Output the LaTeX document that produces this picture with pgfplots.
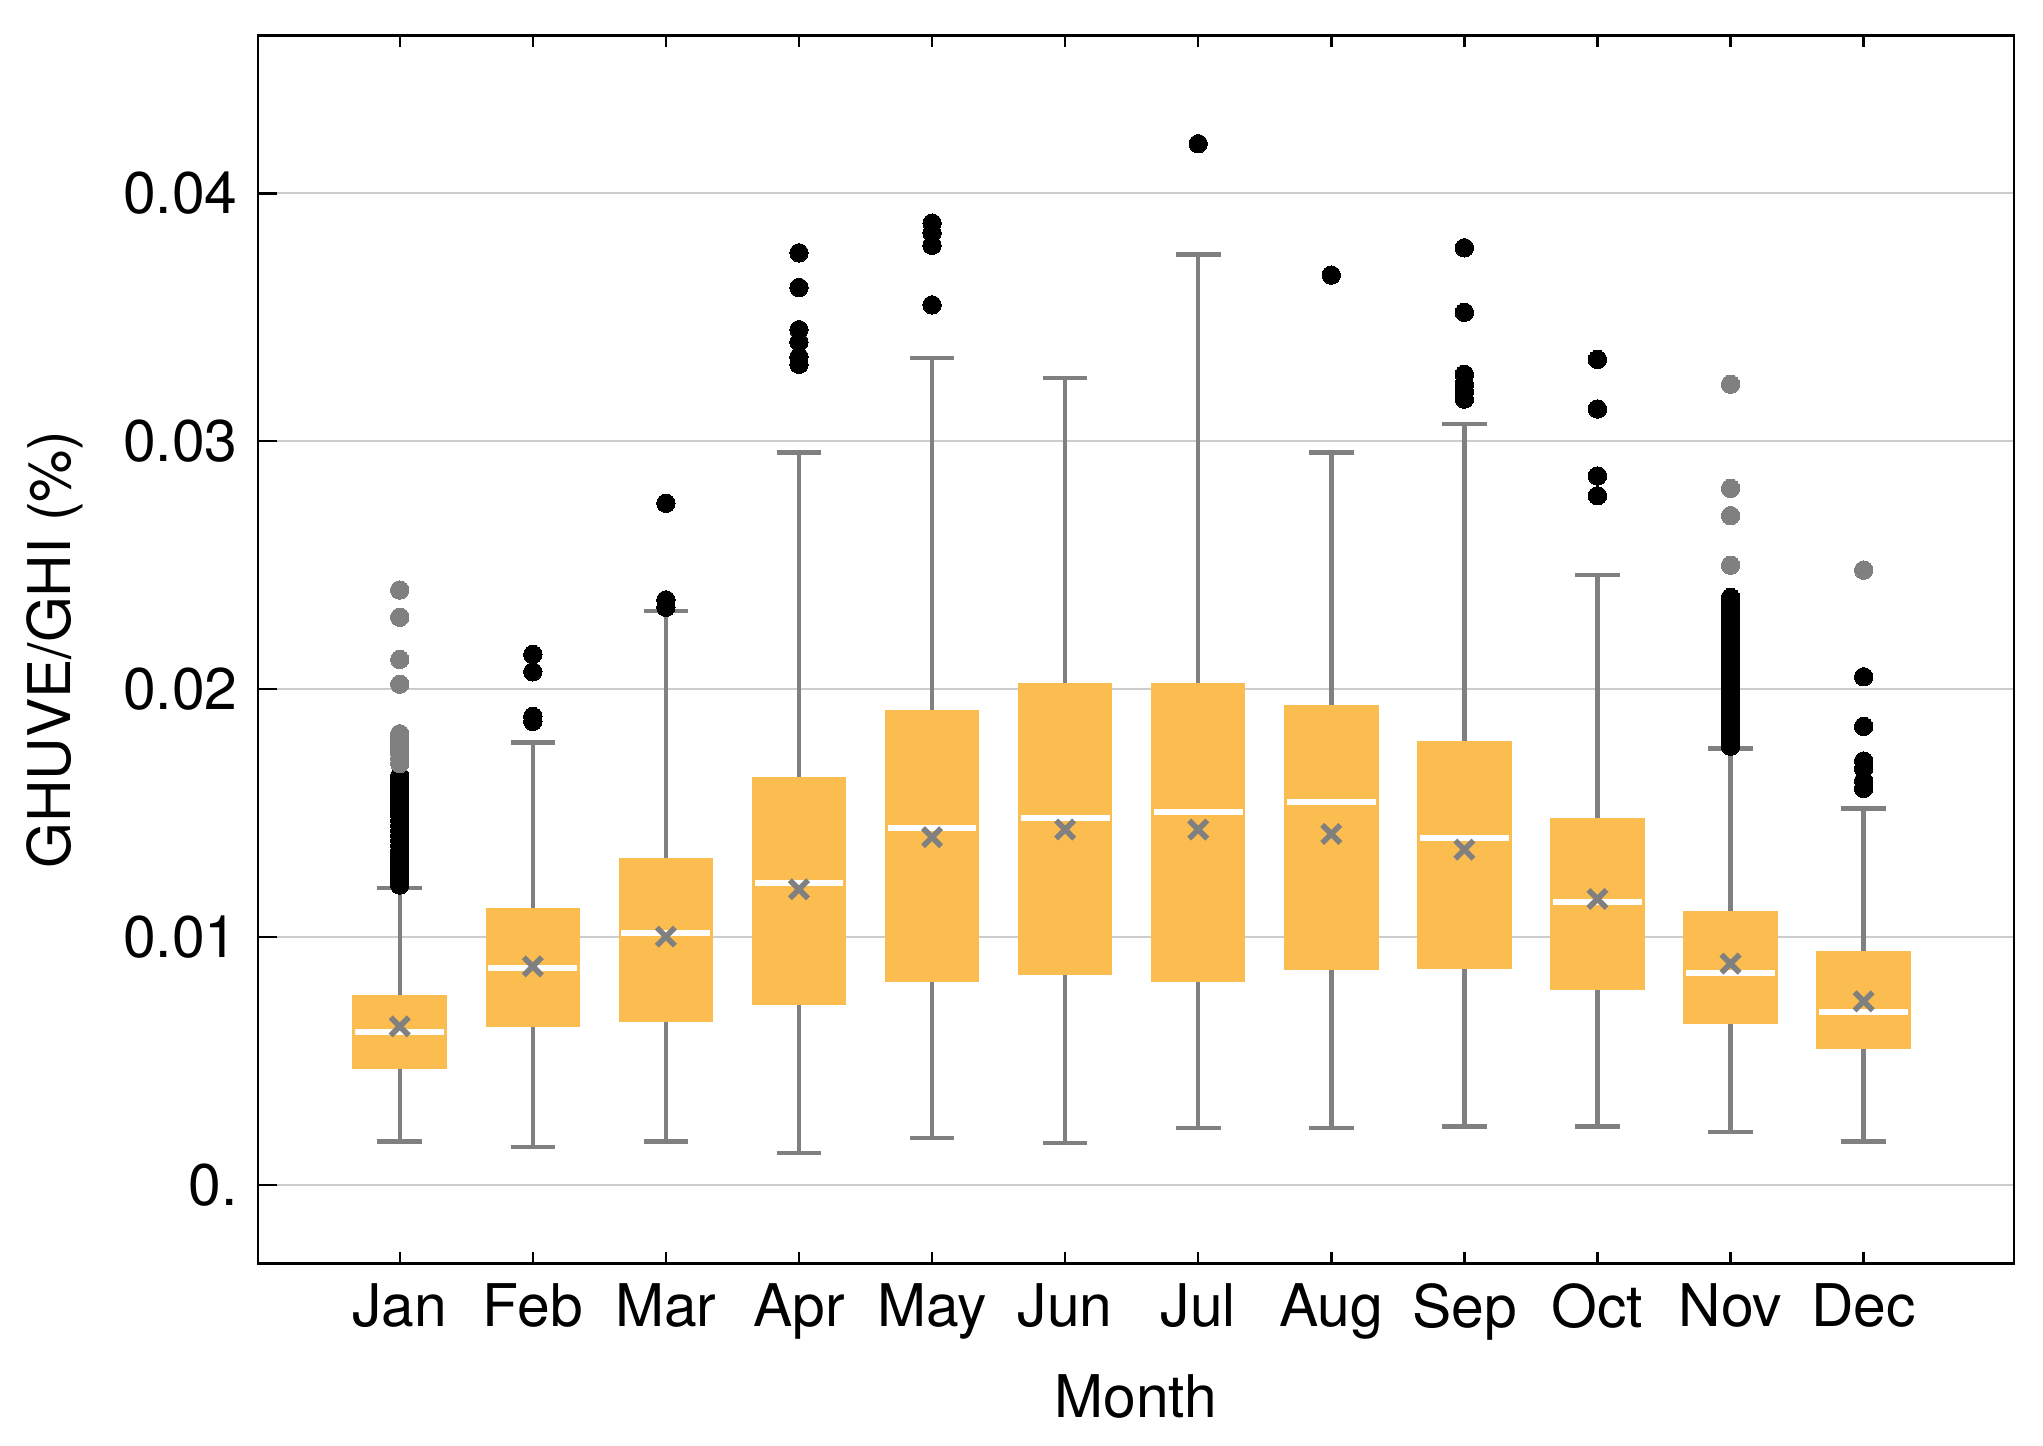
\documentclass[border=0pt]{standalone}
\usepackage{fontspec}
\setmainfont{TeX Gyre Heros}
\usepackage{pgfplots}
\pgfplotsset{compat=1.18}
\usepgfplotslibrary{statistics}
\definecolor{boxorange}{RGB}{251,189,80}
\definecolor{wgray}{RGB}{128,128,128}
\definecolor{gridgray}{RGB}{204,204,204}
\begin{document}
{\fontsize{14.7}{17.6}\selectfont
\begin{tikzpicture}
\path[use as bounding box] (-64.5pt,-45.5pt) rectangle (446.25pt,315.85pt);
% y values are given in units of 0.01 (value x 100), labels show the original scale
\begin{axis}[
  at={(0,0)}, anchor=south west, scale only axis,
  width=439pt, height=307pt,
  xmin=-0.065, xmax=13.13, ymin=-0.316, ymax=4.637,
  xtick={1,2,3,4,5,6,7,8,9,10,11,12},
  xticklabels={Jan,Feb,Mar,Apr,May,Jun,Jul,Aug,Sep,Oct,Nov,Dec},
  ytick={0,1,2,3,4},
  yticklabels={0.,0.01,0.02,0.03,0.04},
  scaled y ticks=false,
  /pgf/number format/assume math mode=true,
  xtick pos=both, ytick pos=left,
  tick align=inside, major tick length=4.7pt,
  xtick style={/pgfplots/major tick length=2.8pt},
  tick style={black, line width=0.6pt},
  axis line style={black, line width=0.6pt},
  ymajorgrids, grid style={gridgray, line width=0.5pt},
  xlabel={Month}, ylabel={GHUVE/GHI (\%)},
  every axis x label/.style={at={(axis description cs:0.5,-0.108)}, anchor=center},
  every axis y label/.style={at={(axis description cs:-0.116,0.5)}, rotate=90, anchor=center},
  boxplot/draw direction=y,
  boxplot/box extend=0.71,
  boxplot/whisker extend=0.335,
  boxplot/every box/.style={draw=none, fill=boxorange},
  boxplot/every whisker/.style={draw=wgray, line width=1.1pt},
  boxplot/every median/.style={draw=white, line width=1.5pt},
  boxplot/draw/median/.code={%
    \draw[/pgfplots/boxplot/every median/.try]
      (boxplot box cs:\pgfplotsboxplotvalue{median},0.03) --
      (boxplot box cs:\pgfplotsboxplotvalue{median},0.97);},
]
% boxes: draw position, lower whisker, lower quartile, median, upper quartile, upper whisker
\addplot[boxplot prepared={draw position=1, lower whisker=0.176, lower quartile=0.467, median=0.617, upper quartile=0.765, upper whisker=1.198}] coordinates {};
\addplot[boxplot prepared={draw position=2, lower whisker=0.153, lower quartile=0.638, median=0.877, upper quartile=1.118, upper whisker=1.785}] coordinates {};
\addplot[boxplot prepared={draw position=3, lower whisker=0.176, lower quartile=0.658, median=1.018, upper quartile=1.318, upper whisker=2.316}] coordinates {};
\addplot[boxplot prepared={draw position=4, lower whisker=0.130, lower quartile=0.725, median=1.217, upper quartile=1.645, upper whisker=2.955}] coordinates {};
\addplot[boxplot prepared={draw position=5, lower whisker=0.190, lower quartile=0.818, median=1.442, upper quartile=1.915, upper whisker=3.336}] coordinates {};
\addplot[boxplot prepared={draw position=6, lower whisker=0.170, lower quartile=0.848, median=1.481, upper quartile=2.025, upper whisker=3.255}] coordinates {};
\addplot[boxplot prepared={draw position=7, lower whisker=0.230, lower quartile=0.818, median=1.503, upper quartile=2.025, upper whisker=3.754}] coordinates {};
\addplot[boxplot prepared={draw position=8, lower whisker=0.230, lower quartile=0.868, median=1.544, upper quartile=1.935, upper whisker=2.955}] coordinates {};
\addplot[boxplot prepared={draw position=9, lower whisker=0.236, lower quartile=0.870, median=1.400, upper quartile=1.790, upper whisker=3.070}] coordinates {};
\addplot[boxplot prepared={draw position=10, lower whisker=0.236, lower quartile=0.788, median=1.140, upper quartile=1.480, upper whisker=2.460}] coordinates {};
\addplot[boxplot prepared={draw position=11, lower whisker=0.215, lower quartile=0.650, median=0.857, upper quartile=1.107, upper whisker=1.760}] coordinates {};
\addplot[boxplot prepared={draw position=12, lower whisker=0.176, lower quartile=0.550, median=0.697, upper quartile=0.945, upper whisker=1.519}] coordinates {};
% means
\addplot[only marks, color=wgray, mark=x, mark size=3.2pt, line width=1.4pt] coordinates {
(1,0.640) (2,0.882) (3,1.002) (4,1.193) (5,1.403) (6,1.434)
(7,1.434) (8,1.416) (9,1.353) (10,1.154) (11,0.893) (12,0.741)};
% outliers (black)
\addplot[only marks, color=black, mark=*, mark size=2.3pt, mark options={fill=black, draw=black, line width=0pt}] coordinates {
(1,1.21) (1,1.23) (1,1.25) (1,1.27) (1,1.29) (1,1.31) (1,1.33) (1,1.35)
(1,1.37) (1,1.39) (1,1.41) (1,1.43) (1,1.45) (1,1.47) (1,1.49) (1,1.51)
(1,1.53) (1,1.55) (1,1.57) (1,1.59) (1,1.61) (1,1.63) (1,1.65)
(2,1.87) (2,1.89) (2,2.07) (2,2.14)
(3,2.33) (3,2.36) (3,2.75)
(4,3.31) (4,3.34) (4,3.40) (4,3.45) (4,3.62) (4,3.76)
(5,3.55) (5,3.79) (5,3.84) (5,3.88)
(7,4.20)
(8,3.67)
(9,3.17) (9,3.20) (9,3.23) (9,3.27) (9,3.52) (9,3.78)
(10,2.78) (10,2.86) (10,3.13) (10,3.33)
(11,1.77) (11,1.79) (11,1.81) (11,1.83) (11,1.85) (11,1.87) (11,1.89) (11,1.91)
(11,1.93) (11,1.95) (11,1.97) (11,1.99) (11,2.01) (11,2.03) (11,2.05) (11,2.07)
(11,2.09) (11,2.11) (11,2.13) (11,2.15) (11,2.17) (11,2.19) (11,2.21) (11,2.23)
(11,2.25) (11,2.27) (11,2.29) (11,2.31) (11,2.33) (11,2.35) (11,2.37)
(12,1.60) (12,1.63) (12,1.68) (12,1.71) (12,1.85) (12,2.05)};
% outliers (gray)
\addplot[only marks, color=wgray, mark=*, mark size=2.3pt, mark options={fill=wgray, draw=wgray, line width=0pt}] coordinates {
(1,1.70) (1,1.72) (1,1.74) (1,1.76) (1,1.78) (1,1.80) (1,1.82)
(1,2.02) (1,2.12) (1,2.29) (1,2.40)
(11,2.50) (11,2.70) (11,2.81) (11,3.23)
(12,2.48)};
\end{axis}
\end{tikzpicture}}
\end{document}
